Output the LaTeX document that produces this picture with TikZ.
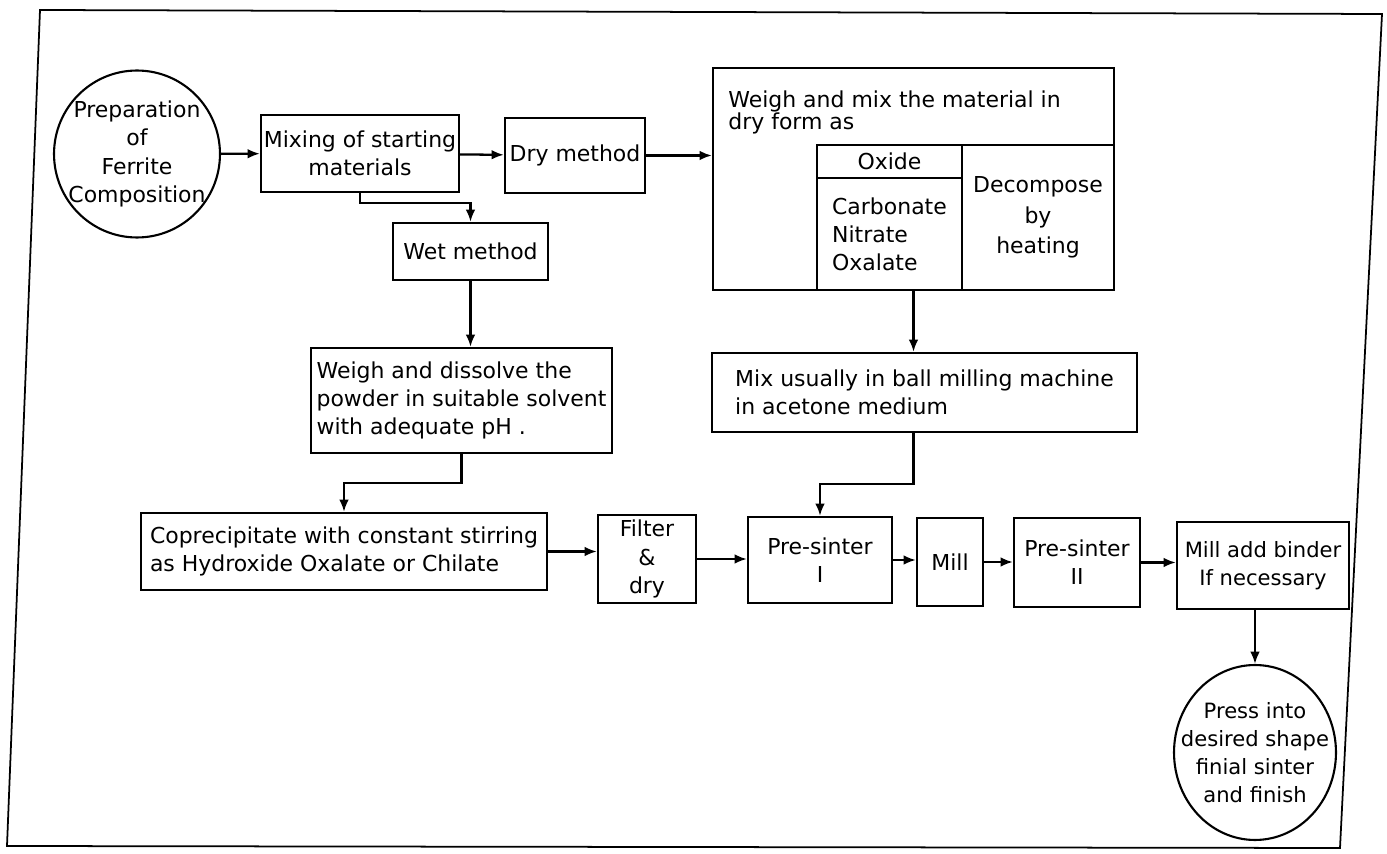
\documentclass[tikz,border=0pt]{standalone}
\usepackage{fontspec}
\setmainfont{DejaVu Sans}
\usetikzlibrary{arrows.meta, shapes.geometric}

\begin{document}
\begin{tikzpicture}[x=0.02cm, y=-0.02cm, >={Latex[length=7pt,width=5.5pt]},
    box/.style={draw, rectangle, line width=1.3pt, inner sep=0pt, align=center, font=\fontsize{12.5}{16}\selectfont},
    blob/.style={draw, ellipse, line width=1.2pt, inner sep=0pt},
    label/.style={align=center, inner sep=0pt, font=\fontsize{12.5}{16}\selectfont},
    flow/.style={->, line width=1.3pt}]
    \useasboundingbox (0,0) rectangle (1387,854);

    % Frame
    \coordinate (tl) at (40,10);
    \coordinate (tr) at (1382,14);
    \coordinate (br) at (1340,848);
    \coordinate (bl) at (7,846);
    \draw[line width=1pt] (tl) -- (tr) -- (br) -- (bl) -- cycle;

    % Nodes
    \node[blob, minimum width=3.32cm, minimum height=3.34cm] (prep) at (137,154) {};
    \node[label] (preptext) at (prep) {Preparation\\of\\Ferrite\\Composition};
    \node[box, minimum width=3.96cm, minimum height=1.54cm] (mixing) at (360,153.5) {Mixing of starting\\materials};
    \node[box, minimum width=2.8cm, minimum height=1.5cm] (dry) at (575,155.5) {Dry method};
    \node[box, minimum width=3.1cm, minimum height=1.14cm] (wet) at (470.5,251.5) {Wet method};
    \node[box, minimum width=8.02cm, minimum height=4.44cm] (weigh) at (913.5,179) {};
    \node[anchor=north west, align=left, inner sep=0pt, font=\fontsize{12.5}{13}\selectfont] (weightext) at (728,90) {Weigh and mix the material in\\dry form as};
    \node[box, minimum width=2.9cm, minimum height=0.66cm] (oxide) at (889.5,161.5) {Oxide};
    \node[box, minimum width=2.9cm, minimum height=2.24cm, align=left] (salts) at (889.5,234) {Carbonate\\Nitrate\\Oxalate};
    \node[box, minimum width=3.04cm, minimum height=2.9cm, font=\fontsize{12.5}{17.5}\selectfont] (heat) at (1038,217.5) {Decompose\\by\\heating};
    \node[box, minimum width=6.02cm, minimum height=2.1cm, align=left] (dissolve) at (461.5,400.5) {Weigh and dissolve the\\powder in suitable solvent\\with adequate pH .};
    \node[box, minimum width=8.5cm, minimum height=1.58cm, align=left] (mixer) at (924.5,392.5) {Mix usually in ball milling machine\\in acetone medium};
    \node[box, minimum width=8.12cm, minimum height=1.54cm, align=left] (copre) at (344,551.5) {Coprecipitate with constant stirring\\as Hydroxide Oxalate or Chilate};
    \node[box, minimum width=1.96cm, minimum height=1.76cm] (filter) at (647,559) {Filter\\\&\\dry};
    \node[box, minimum width=2.88cm, minimum height=1.72cm] (ps1) at (820,560) {Pre-sinter\\I};
    \node[box, minimum width=1.32cm, minimum height=1.76cm] (mill) at (950,562) {Mill};
    \node[box, minimum width=2.52cm, minimum height=1.78cm] (ps2) at (1077,562.5) {Pre-sinter\\II};
    \node[box, minimum width=3.44cm, minimum height=1.74cm, font=\fontsize{12}{16}\selectfont] (millb) at (1263,565.5) {Mill add binder\\If necessary};
    \node[blob, minimum width=3.24cm, minimum height=3.5cm] (press) at (1255,752.5) {};
    \node[label, font=\fontsize{12}{16}\selectfont] (presstext) at (press) {Press into\\desired shape\\finial sinter\\and finish};

    % Arrows
    \draw[flow] (prep) -- (mixing);
    \draw[flow] (mixing) -- (dry);
    \draw[flow] (dry.east) -- (dry.east -| weigh.west);
    \draw[flow] (mixing.south) -- ++(0,10) -| (wet.north);
    \draw[flow] (wet.south) -- (wet.south |- dissolve.north);
    \draw[flow] (dissolve.south) -- ++(0,29) -| (copre.north);
    \draw[flow] (copre.east) -- (copre.east -| filter.west);
    \draw[flow] (filter.east) -- (filter.east -| ps1.west);
    \draw[flow] (weigh.south) -- (weigh.south |- mixer.north);
    \draw[flow] (weigh.south |- mixer.south) -- ++(0,51) -| (ps1.north);
    \draw[flow] (ps1.east) -- (ps1.east -| mill.west);
    \draw[flow] (mill.east) -- (mill.east -| ps2.west);
    \draw[flow] (ps2.east) -- (ps2.east -| millb.west);
    \draw[flow] (press.north |- millb.south) -- (press.north);
\end{tikzpicture}
\end{document}
